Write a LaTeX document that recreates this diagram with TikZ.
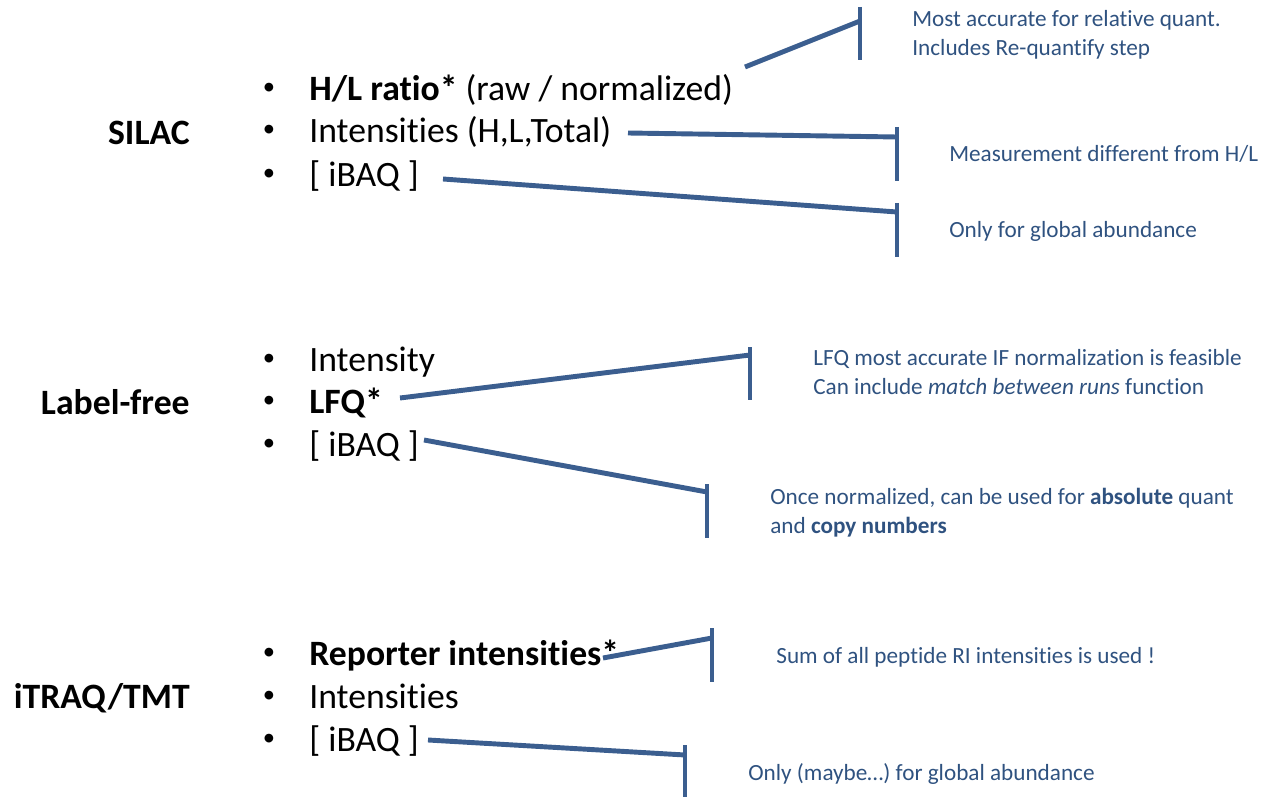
\documentclass[tikz,border=0pt]{standalone}
\usepackage{fontspec}
\setmainfont{Carlito}[Ligatures=NoCommon]
\definecolor{bar}{RGB}{59,94,143}
\definecolor{note}{RGB}{47,82,128}

\begin{document}
\begin{tikzpicture}[x=0.02cm,y=-0.02cm,
    method/.style={font=\fontsize{20.3}{24}\selectfont\bfseries,anchor=east,inner sep=0pt,text height=13pt,text depth=0pt},
    item/.style={font=\fontsize{20.3}{24}\selectfont,anchor=west,inner sep=0pt,text height=13pt,text depth=0pt},
    dot/.style={font=\fontsize{14}{16}\selectfont,anchor=center,inner sep=0pt},
    note/.style={font=\fontsize{13.2}{16.5}\selectfont,color=note,anchor=north west,inner sep=0pt,align=left},
    link/.style={color=bar,line width=2.8pt},
    tee/.style={color=bar,line width=2.8pt}]
    \useasboundingbox (0,0) rectangle (1275,797);

    % methods
    \node[method] (silac) at (190,133) {SILAC};
    \node[method] (lfree) at (190,403) {Label-free};
    \node[method] (itraq) at (190,697) {iTRAQ/TMT};

    % bullets
    \foreach \y in {89,131,175,360,402,445,654,697,740}
        \node[dot] (dot\y) at (269,\y) {•};

    \node[item] (hl) at (309,89) {\textbf{H/L ratio*} (raw / normalized)};
    \node[item] (int) at (309,131) {Intensities (H,L,Total)};
    \node[item] (ibaqA) at (309,175) {[ iBAQ ]};

    \node[item] (intB) at (309,360) {Intensity};
    \node[item] (lfq) at (309,402) {\textbf{LFQ*}};
    \node[item] (ibaqB) at (309,445) {[ iBAQ ]};

    \node[item] (rep) at (309,654) {\textbf{Reporter intensities*}};
    \node[item] (intC) at (309,697) {Intensities};
    \node[item] (ibaqC) at (309,740) {[ iBAQ ]};

    % connector ends
    \coordinate (sHl) at (745,67);    \coordinate (tHl) at (860,21);
    \coordinate (sInt) at (628,133);  \coordinate (tInt) at (897,137);
    \coordinate (sIbA) at (443,179);  \coordinate (tIbA) at (897,212);
    \coordinate (sLfq) at (400,398);  \coordinate (tLfq) at (750,355);
    \coordinate (sIbB) at (424,440);  \coordinate (tIbB) at (707,492);
    \coordinate (sRep) at (603,658);  \coordinate (tRep) at (712,638);
    \coordinate (sIbC) at (428,740);  \coordinate (tIbC) at (685,755);

    \draw[link] (sHl) -- (tHl);   \draw[tee] (860,7) -- (860,60);
    \draw[link] (sInt) -- (tInt); \draw[tee] (897,127) -- (897,181);
    \draw[link] (sIbA) -- (tIbA); \draw[tee] (897,203) -- (897,257);
    \draw[link] (sLfq) -- (tLfq); \draw[tee] (750,347) -- (750,400);
    \draw[link] (sIbB) -- (tIbB); \draw[tee] (707,484) -- (707,538);
    \draw[link] (sRep) -- (tRep); \draw[tee] (712,628) -- (712,682);
    \draw[link] (sIbC) -- (tIbC); \draw[tee] (685,745) -- (685,797);

    % notes
    \node[note] (nHl) at (912,10) {Most accurate for relative quant.\\Includes Re-quantify step};
    \node[note] (nInt) at (949,145) {Measurement different from H/L};
    \node[note] (nIbA) at (949,221) {Only for global abundance};
    \node[note] (nLfq) at (813,349) {LFQ most accurate IF normalization is feasible\\Can include \textit{match between runs} function};
    \node[note] (nIbB) at (770,488) {Once normalized, can be used for \textbf{absolute} quant\\and \textbf{copy numbers}};
    \node[note] (nRep) at (776,647) {Sum of all peptide RI intensities is used !};
    \node[note] (nIbC) at (748,763) {Only (maybe…) for global abundance};
\end{tikzpicture}
\end{document}
